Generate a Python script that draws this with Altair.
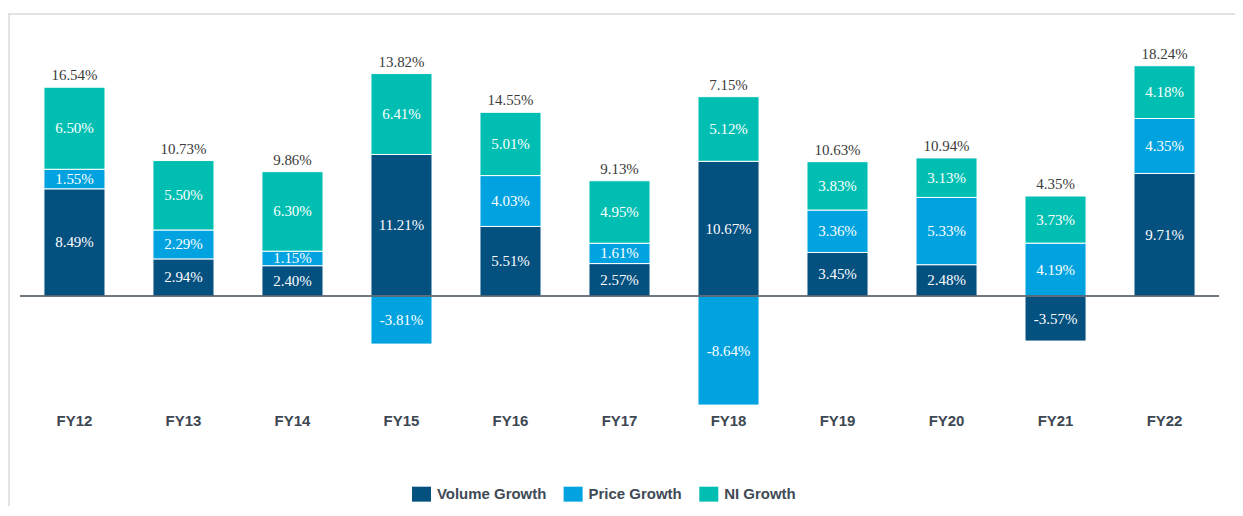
import altair as alt
import pandas as pd

categories = ["FY12", "FY13", "FY14", "FY15", "FY16", "FY17", "FY18", "FY19", "FY20", "FY21", "FY22"]
volume = [8.49, 2.94, 2.40, 11.21, 5.51, 2.57, 10.67, 3.45, 2.48, -3.57, 9.71]
price = [1.55, 2.29, 1.15, -3.81, 4.03, 1.61, -8.64, 3.36, 5.33, 4.19, 4.35]
ni = [6.50, 5.50, 6.30, 6.41, 5.01, 4.95, 5.12, 3.83, 3.13, 3.73, 4.18]
totals = [16.54, 10.73, 9.86, 13.82, 14.55, 9.13, 7.15, 10.63, 10.94, 4.35, 18.24]

series_names = ["Volume Growth", "Price Growth", "NI Growth"]
series_colors = ["#04507f", "#00a3e0", "#00bfb2"]
series_values = [volume, price, ni]

rows = []
tops = []
for i, c in enumerate(categories):
    pos, neg = 0.0, 0.0
    for name, arr in zip(series_names, series_values):
        v = arr[i]
        if v >= 0:
            y0, y1 = pos, pos + v
            pos = y1
        else:
            y0, y1 = neg, neg + v
            neg = y1
        rows.append(dict(cat=c, series=name, value=v, y0=y0, y1=y1,
                         mid=(y0 + y1) / 2, label=f"{v:.2f}%"))
    tops.append(pos)
seg = pd.DataFrame(rows)
tot = pd.DataFrame(dict(cat=categories, top=tops, label=[f"{t:.2f}%" for t in totals]))

W, H = 1202, 367
yscale = alt.Scale(domain=[-9, 20], nice=False, zero=False)
X = alt.X("cat:N", sort=categories,
          scale=alt.Scale(paddingInner=0.44, paddingOuter=0.22),
          axis=alt.Axis(title=None, domain=False, ticks=False, grid=False, labelAngle=0,
                        labelFont="Liberation Sans", labelFontSize=15, labelFontWeight="bold",
                        labelColor="#3d4752", labelPadding=4))

bars = alt.Chart(seg).mark_bar(stroke="white", strokeWidth=1).encode(
    x=X,
    y=alt.Y("y0:Q", scale=yscale, axis=None),
    y2="y1:Q",
    color=alt.Color("series:N",
                    scale=alt.Scale(domain=series_names, range=series_colors),
                    legend=alt.Legend(title=None, orient="none", direction="horizontal",
                                      legendX=395, legendY=444,
                                      symbolType="M-1.27,-1L1.27,-1L1.27,1L-1.27,1Z",
                                      symbolSize=225, symbolStrokeWidth=0, symbolOpacity=1,
                                      labelFont="Liberation Sans", labelFontSize=15,
                                      labelFontWeight="bold", labelColor="#404a55",
                                      labelOffset=8, columnPadding=16, padding=0)),
)

seg_text = alt.Chart(seg).mark_text(font="Liberation Serif", fontSize=15, color="white",
                                    baseline="middle").encode(
    x=X, y=alt.Y("mid:Q", scale=yscale, axis=None), text="label:N")

tot_text = alt.Chart(tot).mark_text(font="Liberation Serif", fontSize=15, color="#3a3a3a",
                                    baseline="alphabetic", dy=-7).encode(
    x=X, y=alt.Y("top:Q", scale=yscale, axis=None), text="label:N")

zero = alt.Chart(pd.DataFrame({"z": [0]})).mark_rule(color="#404b57", strokeWidth=1.5).encode(
    y=alt.Y("z:Q", scale=yscale, axis=None))

one = pd.DataFrame({"a": [0]})
border_top = alt.Chart(one).mark_rule(color="#dadada", strokeWidth=1.5).encode(
    x=alt.value(-12), x2=alt.value(1300), y=alt.value(-29.5))
border_left = alt.Chart(one).mark_rule(color="#dadada", strokeWidth=1.5).encode(
    x=alt.value(-11), y=alt.value(-30), y2=alt.value(600))

chart = alt.layer(border_top, border_left, bars, seg_text, tot_text, zero).properties(
    width=W, height=H,
    background="white",
    autosize=alt.AutoSizeParams(type="none"),
    padding={"left": 12, "top": 35, "right": 16, "bottom": 96},
).configure_view(strokeWidth=0, stroke=None)

chart.save("out.html", embed_options={"renderer": "svg", "actions": False})
